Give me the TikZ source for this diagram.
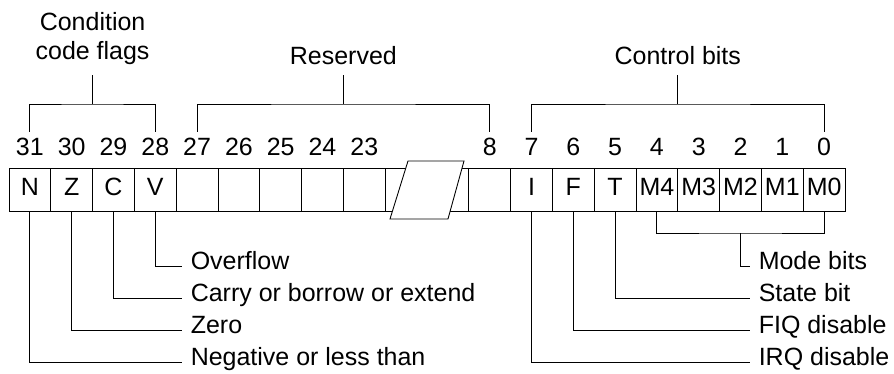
\documentclass[tikz,border=0pt]{standalone}
\usepackage{fontspec}
\setmainfont{Liberation Sans}

\begin{document}
\begin{tikzpicture}[line width=0.6pt,
every node/.style = {font=\fontsize{17pt}{20pt}\selectfont},
cell/.style = {draw, minimum width=1cm, minimum height=1.05cm, inner sep=0pt,
	text height=0.72em, text depth=0pt},
bitno/.style = {anchor=base, inner xsep=0pt, inner ysep=0.29cm, text height=0.72em},
group/.style = {anchor=south, align=center, inner xsep=0pt, inner ysep=0.24cm},
flag/.style = {anchor=west, inner xsep=0.2cm, inner ysep=0pt,
	text height=0.72em, text depth=0.21em}]
\useasboundingbox (-0.215,0) rectangle (21.172,-8.947);
% register cells and bit numbers
\foreach \i/\t/\n in {0/N/31, 1/Z/30, 2/C/29, 3/V/28, 4/{}/27, 5/{}/26, 6/{}/25,
	7/{}/24, 8/{}/23, 11/{}/8, 12/I/7, 13/F/6, 14/T/5, 15/M4/4, 16/M3/3,
	17/M2/2, 18/M1/1, 19/M0/0}
{
\node[cell] (b\n) at (\i+0.5,-4.545) {\t};
\node[bitno] (n\n) at (\i+0.5,-3.708) {\n};
}
\node[cell, minimum width=2cm] (gap) at (10,-4.545) {};
\draw[fill=white] (9.545,-3.852) -- (10.885,-3.852) -- (10.502,-5.239) -- (9.115,-5.239) -- cycle;
% field brackets
\coordinate (ccf) at (2,-2.488);
\coordinate (res) at (8,-2.488);
\coordinate (ctl) at (16,-2.488);
\node[group] (ccfLbl) at (2,-1.80) {Condition\\code flags};
\node[group] (resLbl) at (8,-1.80) {Reserved};
\node[group] (ctlLbl) at (16,-1.80) {Control bits};
\draw (n31) |- (ccf) -| (n28);
\draw (ccf) -- (ccfLbl);
\draw (n27) |- (res) -| (n8);
\draw (res) -- (resLbl);
\draw (n7) |- (ctl) -| (n0);
\draw (ctl) -- (ctlLbl);
% flag meanings
\node[flag] (ovf) at (4.139,-6.364) {Overflow};
\node[flag] (cry) at (4.139,-7.129) {Carry or borrow or extend};
\node[flag] (zro) at (4.139,-7.895) {Zero};
\node[flag] (neg) at (4.139,-8.660) {Negative or less than};
\draw (b28) |- (ovf);
\draw (b29) |- (cry);
\draw (b30) |- (zro);
\draw (b31) |- (neg);
% control meanings
\coordinate (mode) at (17.5,-5.574);
\draw (b4) |- (mode) -| (b0);
\node[flag] (mbl) at (17.727,-6.364) {Mode bits};
\node[flag] (stb) at (17.727,-7.129) {State bit};
\node[flag] (fiq) at (17.727,-7.895) {FIQ disable};
\node[flag] (irq) at (17.727,-8.660) {IRQ disable};
\draw (mode) |- (mbl);
\draw (b5) |- (stb);
\draw (b6) |- (fiq);
\draw (b7) |- (irq);
\end{tikzpicture}
\end{document}
